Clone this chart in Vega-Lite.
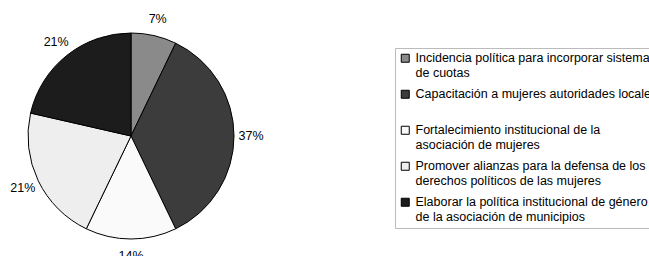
{
  "$schema": "https://vega.github.io/schema/vega-lite/v6.json",
  "width": 262,
  "height": 240,
  "autosize": {"type": "none"},
  "padding": {"top": 16, "left": 0, "right": 387, "bottom": 0},
  "background": "white",
  "config": {"view": {"stroke": null}, "font": "Liberation Sans"},
  "data": {
    "values": [
      {"idx": 1, "cat": "Incidencia política para incorporar sistemas|de cuotas", "n": 1, "label": "7%"},
      {"idx": 2, "cat": "Capacitación a mujeres autoridades locales|", "n": 5, "label": "37%"},
      {"idx": 3, "cat": "Fortalecimiento institucional de la|asociación de mujeres", "n": 2, "label": "14%"},
      {"idx": 4, "cat": "Promover alianzas para la defensa de los|derechos políticos de las mujeres", "n": 3, "label": "21%"},
      {"idx": 5, "cat": "Elaborar la política institucional de género|de la asociación de municipios", "n": 3, "label": "21%"}
    ]
  },
  "encoding": {
    "theta": {"field": "n", "type": "quantitative", "stack": true},
    "order": {"field": "idx", "type": "quantitative"}
  },
  "layer": [
    {
      "mark": {"type": "arc", "outerRadius": 103, "stroke": "black", "strokeWidth": 1},
      "encoding": {
        "color": {
          "field": "cat",
          "type": "nominal",
          "scale": {
            "domain": [
              "Incidencia política para incorporar sistemas|de cuotas",
              "Capacitación a mujeres autoridades locales|",
              "Fortalecimiento institucional de la|asociación de mujeres",
              "Promover alianzas para la defensa de los|derechos políticos de las mujeres",
              "Elaborar la política institucional de género|de la asociación de municipios"
            ],
            "range": ["#8a8a8a", "#3c3c3c", "#fafafa", "#eeeeee", "#1c1c1c"]
          },
          "legend": {
            "title": null,
            "orient": "none",
            "legendX": 395,
            "legendY": 32,
            "strokeColor": "#bbbbbb",
            "padding": 4,
            "symbolType": "square",
            "symbolSize": 64,
            "symbolStrokeColor": "black",
            "symbolStrokeWidth": 1,
            "symbolOpacity": 1,
            "labelFontSize": 12.5,
            "labelFont": "Liberation Sans",
            "labelColor": "black",
            "labelLimit": 400,
            "labelExpr": "split(datum.label, '|')",
            "rowPadding": 8
          }
        }
      }
    },
    {
      "mark": {"type": "text", "radius": 120, "fontSize": 12.5, "font": "Liberation Sans", "color": "black"},
      "encoding": {"text": {"field": "label"}}
    }
  ]
}
